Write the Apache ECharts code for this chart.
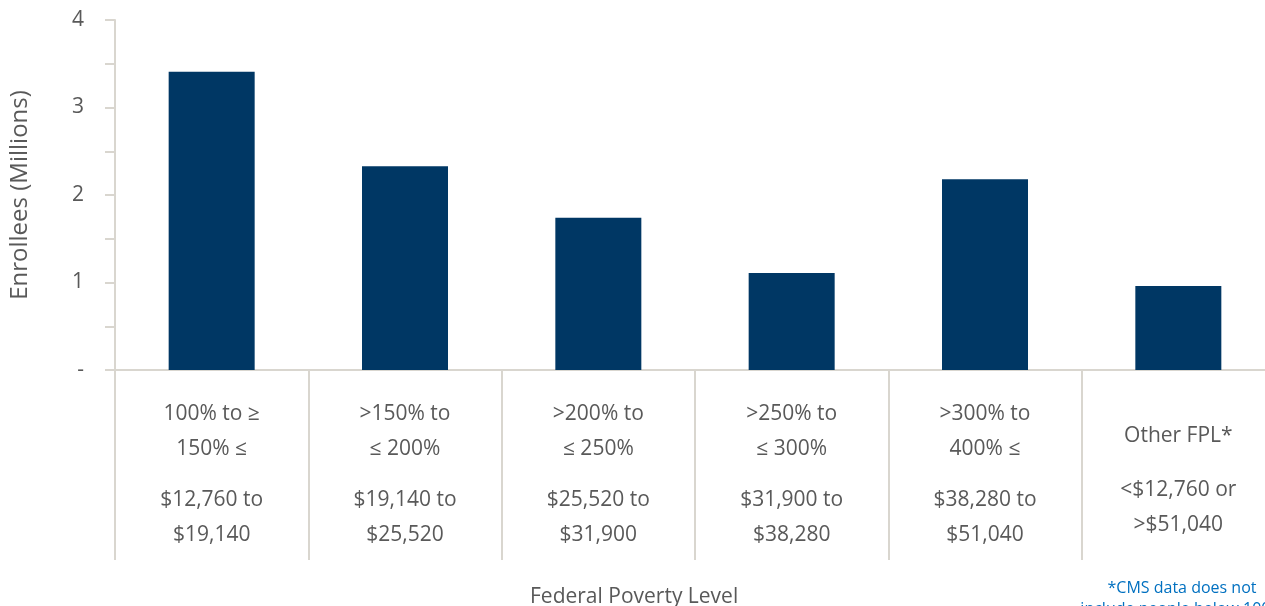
<!DOCTYPE html>
<html>
<head>
<meta charset="utf-8">
<script src="https://cdn.jsdelivr.net/npm/echarts@6.0.0/dist/echarts.min.js"></script>
<style>
  html, body { margin: 0; padding: 0; background: #fff; }
  #root { width: 1265px; height: 606px; }
</style>
</head>
<body>
<div id="root"></div>
<script>
// categories: [percent line 1, percent line 2, dollars line 1, dollars line 2]
const categories = [
  ['100% to \u2265', '150% \u2264', '$12,760 to', '$19,140'],
  ['>150% to', '\u2264 200%', '$19,140 to', '$25,520'],
  ['>200% to', '\u2264 250%', '$25,520 to', '$31,900'],
  ['>250% to', '\u2264 300%', '$31,900 to', '$38,280'],
  ['>300% to', '400% \u2264', '$38,280 to', '$51,040'],
  ['Other FPL*', '<$12,760 or', '>$51,040']
];
const enrollees = [3.41, 2.33, 1.74, 1.11, 2.18, 0.96];
const yTicks = [0, 1, 2, 3, 4];

const textColor = '#595959';
const lineColor = '#d9d6cf';
const font = 'Open Sans';

const labelText = (parts) => {
  if (parts.length === 4) {
    return `{t|${parts[0]}}\n{t|${parts[1]}}\n{g| }\n{t|${parts[2]}}\n{t|${parts[3]}}`;
  }
  return `{p| }\n{t|${parts[0]}}\n{h| }\n{t|${parts[1]}}\n{t|${parts[2]}}`;
};

const chart = echarts.init(document.getElementById('root'));

const option = {
  animation: false,
  textStyle: { fontFamily: font },
  grid: { left: 115, right: -10, top: 20, bottom: 236, containLabel: false, outerBoundsMode: 'none' },
  xAxis: {
    type: 'category',
    data: categories.map(labelText),
    axisLine: { lineStyle: { color: lineColor, width: 2 } },
    axisTick: {
      show: true,
      interval: 0,
      alignWithLabel: false,
      length: 190,
      lineStyle: { color: lineColor, width: 2 }
    },
    axisLabel: {
      interval: 0,
      margin: 27,
      color: textColor,
      rich: {
        t: { fontSize: 21, lineHeight: 35, color: textColor, fontFamily: font },
        g: { fontSize: 10, lineHeight: 16 },
        p: { fontSize: 10, lineHeight: 22 },
        h: { fontSize: 10, lineHeight: 19 }
      }
    }
  },
  yAxis: {
    type: 'value',
    min: yTicks[0],
    max: yTicks[yTicks.length - 1],
    interval: 1,
    name: 'Enrollees (Millions)',
    nameLocation: 'middle',
    nameGap: 83,
    nameTextStyle: { fontSize: 24, color: textColor, fontFamily: font },
    axisLine: { show: true, lineStyle: { color: lineColor, width: 2 } },
    axisTick: { show: true, length: 10, lineStyle: { color: lineColor, width: 2 } },
    minorTick: { show: true, splitNumber: 2, length: 10, lineStyle: { color: lineColor, width: 2 } },
    splitLine: { show: false },
    axisLabel: {
      margin: 31,
      fontSize: 21,
      color: textColor,
      formatter: (v) => (v === 0 ? '-' : String(v))
    }
  },
  series: [
    {
      type: 'bar',
      data: enrollees,
      barWidth: 86,
      itemStyle: { color: '#003764' }
    }
  ],
  graphic: [
    {
      type: 'text',
      left: 530,
      top: 587,
      style: { text: 'Federal Poverty Level', fontSize: 21, fill: textColor, fontFamily: font }
    },
    {
      type: 'text',
      x: 1182,
      y: 578,
      style: {
        text: '*CMS data does not\ninclude people below 100%',
        fontSize: 16,
        lineHeight: 21,
        fill: '#0070c0',
        align: 'center',
        fontFamily: font
      }
    }
  ]
};

chart.setOption(option);
</script>
</body>
</html>
